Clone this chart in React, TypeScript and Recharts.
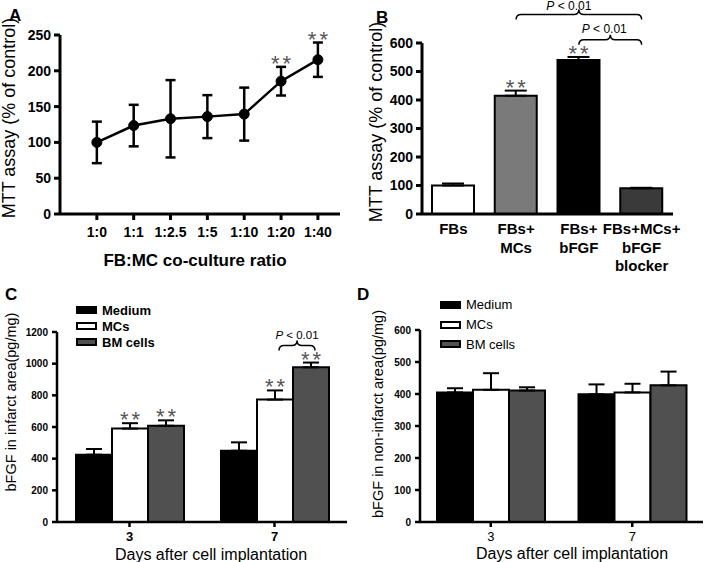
import React from "react";
import {
  LineChart,
  Line,
  BarChart,
  Bar,
  Cell,
  XAxis,
  YAxis,
  ErrorBar,
  ReferenceDot,
  ReferenceLine,
  LabelList,
  Legend,
} from "recharts";

const FONT = '"Liberation Sans", Arial, sans-serif';

// Panel A: MTT assay vs co-culture ratio
const ratioLabels = ["1:0", "1:1", "1:2.5", "1:5", "1:10", "1:20", "1:40"];
const mttMeans = [100, 123.5, 133, 136, 139.5, 185.5, 215.5];
const mttErrors = [29, 29, 54, 30, 37, 20, 24];
const mttStars = [5, 6];
const mttTicks = [0, 50, 100, 150, 200, 250];

// Panel B: MTT assay by group
const groupLabels = ["FBs", "FBs+\nMCs", "FBs+\nbFGF", "FBs+MCs+\nbFGF\nblocker"];
const groupValues = [100, 415, 540, 90];
const groupErrors = [7, 18, 11, 2];
const groupColors = ["#ffffff", "#7a7a7a", "#000000", "#3a3a3a"];
const groupStars = [1, 2];
const groupTicks = [0, 100, 200, 300, 400, 500, 600];
const braceLevels = [700, 611];

// Panels C and D: bFGF after implantation
const days = ["3", "7"];
const seriesNames = ["Medium", "MCs", "BM cells"];
const seriesColors = ["#000000", "#ffffff", "#505050"];

const infMedium = [425, 450];
const infMCs = [590, 773];
const infBM = [608, 977];
const infMediumErr = [36, 53];
const infMCsErr = [34, 58];
const infBMErr = [34, 30];
const infTicks = [0, 200, 400, 600, 800, 1000, 1200];

const nonMedium = [405, 399];
const nonMCs = [413, 405];
const nonBM = [411, 427];
const nonMediumErr = [13, 31];
const nonMCsErr = [52, 27];
const nonBMErr = [10, 43];
const nonTicks = [0, 100, 200, 300, 400, 500, 600];

const dataA = ratioLabels.map((r, i) => ({ x: i, label: r, mean: mttMeans[i], err: mttErrors[i] }));
const dataB = groupLabels.map((g, i) => ({ label: g, value: groupValues[i], err: [0, groupErrors[i]] }));
const dataC = days.map((d, i) => ({
  day: d,
  medium: infMedium[i],
  mcs: infMCs[i],
  bm: infBM[i],
  mediumErr: [0, infMediumErr[i]],
  mcsErr: [0, infMCsErr[i]],
  bmErr: [0, infBMErr[i]],
}));
const dataD = days.map((d, i) => ({
  day: d,
  medium: nonMedium[i],
  mcs: nonMCs[i],
  bm: nonBM[i],
  mediumErr: [0, nonMediumErr[i]],
  mcsErr: [0, nonMCsErr[i]],
  bmErr: [0, nonBMErr[i]],
}));

const axisLine = (w: number) => ({ stroke: "#000", strokeWidth: w });

function Stars({ x, y }: { x: number; y: number }) {
  return (
    <text x={x} y={y + 4} dx={1.5} textAnchor="middle" fontSize={22} fill="#555" fontFamily={FONT} letterSpacing={3}>
      **
    </text>
  );
}

function Brace({ x1, x2, y, textDx, textDy, size }: any) {
  const m = (x1 + x2) / 2;
  const r = 5;
  const d = `M${x1},${y + r} Q${x1},${y} ${x1 + r},${y} L${m - r},${y} Q${m},${y} ${m},${y - r} Q${m},${y} ${m + r},${y} L${x2 - r},${y} Q${x2},${y} ${x2},${y + r}`;
  return (
    <g>
      <path d={d} fill="none" stroke="#000" strokeWidth={1.5} />
      <text x={m + textDx} y={y + textDy} textAnchor="middle" fontSize={size} fill="#000" fontFamily={FONT}>
        <tspan fontStyle="italic">P</tspan>
        {" < 0.01"}
      </text>
    </g>
  );
}

// stars above the error cap of chosen bars
const barStars = (values: number[], errs: number[], stars: number[]) => (props: any) => {
  const { index } = props;
  if (!stars.includes(index)) return null;
  const vb = props.viewBox || props;
  const ppu = vb.height / values[index];
  const capY = vb.y - errs[index] * ppu;
  return <Stars x={vb.x + vb.width / 2} y={capY} />;
};

const yTitle = (text: string, cx: number, cy: number, size: number, weight = "normal") => () => (
  <text
    x={cx}
    y={cy}
    transform={`rotate(-90, ${cx}, ${cy})`}
    textAnchor="middle"
    dominantBaseline="central"
    fontSize={size}
    fontWeight={weight}
    fill="#000"
    fontFamily={FONT}
  >
    {text}
  </text>
);

const xTitle = (text: string, cx: number, y: number, size: number, weight = "normal") => () => (
  <text x={cx} y={y} textAnchor="middle" fontSize={size} fontWeight={weight} fill="#000" fontFamily={FONT}>
    {text}
  </text>
);

function GroupTick({ x, y, payload }: any) {
  const lines = String(payload.value).split("\n");
  return (
    <text x={x} y={y} textAnchor="middle" fontSize={15} fontWeight="bold" fill="#000" fontFamily={FONT}>
      {lines.map((l, i) => (
        <tspan key={i} x={x} dy={i === 0 ? 12 : 18.5}>
          {l}
        </tspan>
      ))}
    </text>
  );
}

function SeriesLegend({ rowH, bold }: { rowH: number; bold: boolean }) {
  return (
    <div style={{ display: "flex", flexDirection: "column", fontFamily: FONT }}>
      {seriesNames.map((n, i) => (
        <div key={n} style={{ display: "flex", alignItems: "center", height: rowH }}>
          <span
            style={{
              display: "inline-block",
              width: 21,
              height: 8,
              border: "2px solid #000",
              boxSizing: "border-box",
              background: seriesColors[i],
              marginRight: 5,
            }}
          />
          <span style={{ fontSize: 13, fontWeight: bold ? "bold" : "normal", color: "#000" }}>{n}</span>
        </div>
      ))}
    </div>
  );
}

function PanelA() {
  return (
    <LineChart width={350} height={280} data={dataA} margin={{ top: 35, right: 10, bottom: 0, left: 0 }}>
      <XAxis
        type="number"
        dataKey="x"
        domain={[-1, 6.6]}
        ticks={ratioLabels.map((_, i) => i)}
        tickFormatter={(v) => ratioLabels[v]}
        allowDataOverflow
        height={66}
        tickSize={6}
        tickMargin={7}
        axisLine={axisLine(3)}
        tickLine={axisLine(3)}
        tick={{ fontSize: 14, fontWeight: "bold", fill: "#000", fontFamily: FONT }}
        label={{ content: xTitle("FB:MC co-culture ratio", 195, 266, 17, "bold") }}
      />
      <YAxis
        domain={[0, 250]}
        ticks={mttTicks}
        width={60}
        tickSize={6}
        tickMargin={3}
        axisLine={axisLine(3)}
        tickLine={axisLine(3)}
        tick={{ fontSize: 14, fontWeight: "bold", fill: "#000", fontFamily: FONT }}
        label={{ content: yTitle("MTT assay (% of control)", 9, 118, 18) }}
      />
      <Line
        type="linear"
        dataKey="mean"
        stroke="#000"
        strokeWidth={2.5}
        dot={{ r: 5, fill: "#000", stroke: "#000", strokeWidth: 1 }}
        isAnimationActive={false}
      >
        <ErrorBar dataKey="err" width={5} stroke="#000" strokeWidth={2.5} direction="y" />
      </Line>
      {mttStars.map((i) => (
        <ReferenceDot
          key={i}
          x={i}
          y={mttMeans[i] + mttErrors[i]}
          r={0}
          ifOverflow="visible"
          shape={(p: any) => <Stars x={p.cx} y={p.cy} />}
        />
      ))}
    </LineChart>
  );
}

function PanelB() {
  return (
    <BarChart width={359} height={290} data={dataB} margin={{ top: 43, right: 36, bottom: 0, left: 0 }}>
      <XAxis
        dataKey="label"
        height={76}
        interval={0}
        tickSize={6}
        tickMargin={2}
        axisLine={axisLine(3)}
        tickLine={false}
        tick={<GroupTick />}
      />
      <YAxis
        domain={[0, 600]}
        ticks={groupTicks}
        width={72}
        tickSize={6}
        tickMargin={3}
        axisLine={axisLine(3)}
        tickLine={axisLine(3)}
        tick={{ fontSize: 14, fontWeight: "bold", fill: "#000", fontFamily: FONT }}
        label={{ content: yTitle("MTT assay (% of control)", 26, 122, 18) }}
      />
      <Bar dataKey="value" barSize={42} stroke="#000" strokeWidth={2} isAnimationActive={false}>
        {groupColors.map((c, i) => (
          <Cell key={i} fill={c} />
        ))}
        <ErrorBar dataKey="err" width={11} stroke="#000" strokeWidth={2} direction="y" />
        <LabelList dataKey="value" content={barStars(groupValues, groupErrors, groupStars)} />
      </Bar>
      <ReferenceLine
        ifOverflow="visible"
        segment={[
          { x: groupLabels[1], y: braceLevels[0] },
          { x: groupLabels[3], y: braceLevels[0] },
        ]}
        shape={(p: any) => <Brace x1={p.x1} x2={p.x2} y={p.y1} textDx={-10} textDy={-5} size={12} />}
      />
      <ReferenceLine
        ifOverflow="visible"
        segment={[
          { x: groupLabels[2], y: braceLevels[1] },
          { x: groupLabels[3], y: braceLevels[1] },
        ]}
        shape={(p: any) => <Brace x1={p.x1} x2={p.x2} y={p.y1} textDx={-6} textDy={-7} size={12} />}
      />
    </BarChart>
  );
}

// draws the P<0.01 brace between MCs and BM cells at day 7
const dayBrace = (values: number[], errs: number[]) => (props: any) => {
  const { index } = props;
  const vb = props.viewBox || props;
  const ppu = vb.height / values[index];
  const capY = vb.y - errs[index] * ppu;
  const star = <Stars x={vb.x + vb.width / 2} y={capY} />;
  if (index !== 1) return star;
  return (
    <g>
      {star}
      <Brace
        x1={vb.x - vb.width / 2 + 4}
        x2={vb.x + vb.width / 2 + 4}
        y={capY - 17}
        textDx={0}
        textDy={-7}
        size={11.5}
      />
    </g>
  );
};

function PanelC() {
  return (
    <BarChart width={355} height={282} data={dataC} barGap={0} margin={{ top: 52, right: 8, bottom: 0, left: 0 }}>
      <XAxis
        dataKey="day"
        height={40}
        tickSize={5}
        tickMargin={5}
        axisLine={axisLine(2.5)}
        tickLine={axisLine(2.5)}
        tick={{ fontSize: 13, fontWeight: "bold", fill: "#000", fontFamily: FONT }}
        label={{ content: xTitle("Days after cell implantation", 211, 280, 16) }}
      />
      <YAxis
        domain={[0, 1200]}
        ticks={infTicks}
        width={57}
        tickSize={5}
        tickMargin={4}
        axisLine={axisLine(2.5)}
        tickLine={axisLine(2.5)}
        tick={{ fontSize: 10, fontWeight: "bold", fill: "#000", fontFamily: FONT }}
        label={{ content: yTitle("bFGF in infarct area(pg/mg)", 11, 122, 14.5) }}
      />
      <Legend
        layout="vertical"
        align="center"
        verticalAlign="middle"
        wrapperStyle={{ left: 76, top: 22, width: "auto", height: "auto" }}
        content={() => <SeriesLegend rowH={16} bold={true} />}
      />
      <Bar dataKey="medium" name={seriesNames[0]} barSize={36} fill={seriesColors[0]} stroke="#000" strokeWidth={2} isAnimationActive={false}>
        <ErrorBar dataKey="mediumErr" width={8} stroke="#000" strokeWidth={2} direction="y" />
      </Bar>
      <Bar dataKey="mcs" name={seriesNames[1]} barSize={36} fill={seriesColors[1]} stroke="#000" strokeWidth={2} isAnimationActive={false}>
        <ErrorBar dataKey="mcsErr" width={8} stroke="#000" strokeWidth={2} direction="y" />
        <LabelList dataKey="mcs" content={barStars(infMCs, infMCsErr, [0, 1])} />
      </Bar>
      <Bar dataKey="bm" name={seriesNames[2]} barSize={36} fill={seriesColors[2]} stroke="#000" strokeWidth={2} isAnimationActive={false}>
        <ErrorBar dataKey="bmErr" width={8} stroke="#000" strokeWidth={2} direction="y" />
        <LabelList dataKey="bm" content={dayBrace(infBM, infBMErr)} />
      </Bar>
    </BarChart>
  );
}

function PanelD() {
  return (
    <BarChart width={354} height={282} data={dataD} barGap={0} margin={{ top: 50, right: 6, bottom: 0, left: 0 }}>
      <XAxis
        dataKey="day"
        height={40}
        tickSize={5}
        tickMargin={5}
        axisLine={axisLine(2.5)}
        tickLine={axisLine(2.5)}
        tick={{ fontSize: 13, fill: "#000", fontFamily: FONT }}
        label={{ content: xTitle("Days after cell implantation", 217, 279, 16) }}
      />
      <YAxis
        domain={[0, 600]}
        ticks={nonTicks}
        width={65}
        tickSize={5}
        tickMargin={4}
        axisLine={axisLine(2.5)}
        tickLine={axisLine(2.5)}
        tick={{ fontSize: 10, fontWeight: "bold", fill: "#000", fontFamily: FONT }}
        label={{ content: yTitle("bFGF in non-infarct area(pg/mg)", 23, 134, 14.5) }}
      />
      <Legend
        layout="vertical"
        align="center"
        verticalAlign="middle"
        wrapperStyle={{ left: 85, top: 15, width: "auto", height: "auto" }}
        content={() => <SeriesLegend rowH={19.75} bold={false} />}
      />
      <Bar dataKey="medium" name={seriesNames[0]} barSize={36} fill={seriesColors[0]} stroke="#000" strokeWidth={2} isAnimationActive={false}>
        <ErrorBar dataKey="mediumErr" width={8} stroke="#000" strokeWidth={2} direction="y" />
      </Bar>
      <Bar dataKey="mcs" name={seriesNames[1]} barSize={36} fill={seriesColors[1]} stroke="#000" strokeWidth={2} isAnimationActive={false}>
        <ErrorBar dataKey="mcsErr" width={8} stroke="#000" strokeWidth={2} direction="y" />
      </Bar>
      <Bar dataKey="bm" name={seriesNames[2]} barSize={36} fill={seriesColors[2]} stroke="#000" strokeWidth={2} isAnimationActive={false}>
        <ErrorBar dataKey="bmErr" width={8} stroke="#000" strokeWidth={2} direction="y" />
      </Bar>
    </BarChart>
  );
}

const letterStyle: React.CSSProperties = {
  position: "absolute",
  fontFamily: FONT,
  fontWeight: "bold",
  fontSize: 17,
  lineHeight: "17px",
  color: "#000",
};

export default function App() {
  return (
    <div
      style={{
        position: "absolute",
        left: 0,
        top: 0,
        width: 709,
        height: 562,
        background: "#fff",
        overflow: "hidden",
        fontFamily: FONT,
      }}
    >
      <div style={{ position: "absolute", left: 0, top: 0 }}>
        <PanelA />
      </div>
      <div style={{ position: "absolute", left: 350, top: 0 }}>
        <PanelB />
      </div>
      <div style={{ position: "absolute", left: 0, top: 280 }}>
        <PanelC />
      </div>
      <div style={{ position: "absolute", left: 355, top: 280 }}>
        <PanelD />
      </div>
      <div style={{ ...letterStyle, left: 9, top: 7 }}>A</div>
      <div style={{ ...letterStyle, left: 376, top: 9 }}>B</div>
      <div style={{ ...letterStyle, left: 5, top: 286 }}>C</div>
      <div style={{ ...letterStyle, left: 357, top: 286 }}>D</div>
    </div>
  );
}
